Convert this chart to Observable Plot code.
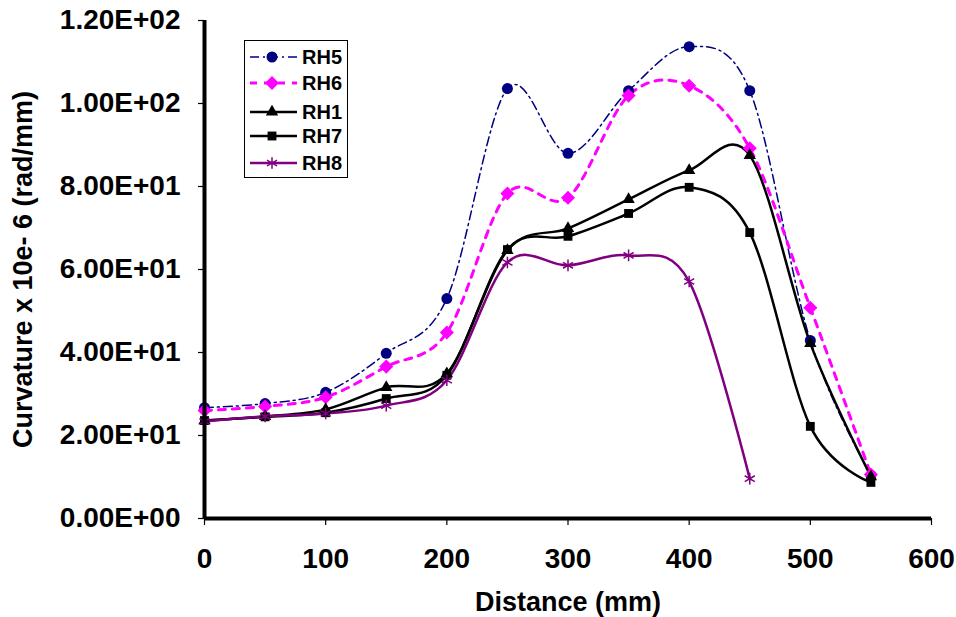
<!DOCTYPE html>
<html>
<head>
<meta charset="utf-8">
<script src="https://cdn.jsdelivr.net/npm/d3@7"></script>
<script src="https://cdn.jsdelivr.net/npm/@observablehq/plot@0.6"></script>
<style>
  html, body { margin: 0; padding: 0; background: #fff; }
  #wrap { position: relative; width: 956px; height: 617px; font-family: "Liberation Sans", Arial, sans-serif; }
  #legend { position: absolute; left: 244px; top: 40px; }
</style>
</head>
<body>
<div id="wrap"></div>
<script>
// ---- data ----
const distance = [0, 50, 100, 150, 200, 250, 300, 350, 400, 450, 500, 550];
const RH5 = [26.7, 27.7, 30.4, 39.8, 53.0, 103.6, 88.0, 103.1, 113.7, 103.1, 42.9, 10.4];
const RH6 = [26.0, 27.0, 29.2, 36.6, 44.8, 78.3, 77.3, 101.9, 104.3, 89.2, 50.8, 10.6];
const RH1 = [23.6, 24.6, 26.3, 31.6, 34.9, 64.6, 69.9, 76.9, 83.9, 87.5, 42.2, 10.1];
const RH7 = [23.6, 24.5, 25.5, 28.9, 34.5, 64.8, 68.0, 73.5, 79.8, 68.9, 22.2, 8.7];
const RH8 = [23.4, 24.6, 25.3, 27.2, 33.3, 61.7, 61.0, 63.4, 57.1, 9.6];
const yTicks = [0, 20, 40, 60, 80, 100, 120];
const xTicks = [0, 100, 200, 300, 400, 500, 600];

const seriesNames = ["RH5", "RH6", "RH1", "RH7", "RH8"];
const seriesValues = {RH5, RH6, RH1, RH7, RH8};

// square-ish rotated diamond, like Excel's marker
const diamondSym = {
  draw(ctx, size) {
    const r = Math.sqrt(size / 2);
    ctx.moveTo(0, -r); ctx.lineTo(r, 0); ctx.lineTo(0, r); ctx.lineTo(-r, 0); ctx.closePath();
  }
};
const symMap = {circle: d3.symbolCircle, diamond: diamondSym, triangle: d3.symbolTriangle, square: d3.symbolSquare, asterisk: d3.symbolAsterisk};

const styles = {
  RH5: {stroke: "#000080", width: 1.5, dash: "9,4,2,4", symbol: "circle", fill: "#000080", r: 5.5},
  RH6: {stroke: "#ff00ff", width: 3, dash: "7,7", symbol: "diamond", fill: "#ff00ff", r: 5.6},
  RH1: {stroke: "#000000", width: 2.5, dash: null, symbol: "triangle", fill: "#000000", r: 4.6},
  RH7: {stroke: "#000000", width: 2.5, dash: null, symbol: "square", fill: "#000000", r: 5},
  RH8: {stroke: "#800080", width: 2.5, dash: null, symbol: "asterisk", fill: "none", r: 5.5}
};

function tableFor(name) {
  return seriesValues[name].map((v, i) => ({x: distance[i], y: v}));
}
function sci(d) {
  const [m, e] = d.toExponential(2).split("e");
  const n = +e;
  return m + "E" + (n < 0 ? "-" : "+") + String(Math.abs(n)).padStart(2, "0");
}

const marks = [];
for (const name of seriesNames) {
  const s = styles[name];
  marks.push(Plot.line(tableFor(name), {x: "x", y: "y", stroke: s.stroke, strokeWidth: s.width,
    strokeDasharray: s.dash, curve: "cardinal", tension: 0}));
}
for (const name of seriesNames) {
  const s = styles[name];
  const data = tableFor(name);
  if (s.symbol === "asterisk") {
    marks.push(Plot.dot(data, {x: "x", y: "y", symbol: symMap.asterisk, r: s.r, stroke: s.stroke, strokeWidth: 1.5}));
  } else {
    marks.push(Plot.dot(data, {x: "x", y: "y", symbol: symMap[s.symbol], r: s.r, fill: s.fill, stroke: "none"}));
  }
}

const chart = Plot.plot({
  width: 956,
  height: 617,
  marginLeft: 204,
  marginRight: 25,
  marginTop: 20,
  marginBottom: 99,
  style: {fontFamily: "'Liberation Sans', Arial, sans-serif", fontWeight: "bold", fontSize: "28px", color: "#000", background: "#fff"},
  x: {domain: [0, 600]},
  y: {domain: [0, 120]},
  marks: [
    Plot.axisX({ticks: xTicks, tickSize: 7, tickPadding: 23, tickFormat: d => String(d),
      fontSize: 28, fontWeight: "bold", strokeWidth: 1.2, label: null}),
    Plot.axisX({ticks: [], label: "Distance (mm)", labelAnchor: "center", labelOffset: 92, labelArrow: "none",
      fontSize: 27, fontWeight: "bold"}),
    Plot.axisY({ticks: yTicks, tickSize: 6, tickPadding: 18, tickFormat: sci,
      fontSize: 28, fontWeight: "bold", strokeWidth: 1.2, label: null}),
    Plot.axisY({ticks: [], label: "Curvature x 10e- 6 (rad/mm)", labelAnchor: "center", labelOffset: 192, labelArrow: "none",
      fontSize: 27, fontWeight: "bold"}),
    ...marks,
    Plot.ruleY([0], {stroke: "#000", strokeWidth: 4}),
    Plot.ruleX([0], {stroke: "#000", strokeWidth: 4})
  ]
});
document.getElementById("wrap").appendChild(chart);

// ---- legend ----
const lw = 103, lh = 137;
const leg = d3.select("#wrap").append("svg").attr("id", "legend")
  .attr("width", lw + 2).attr("height", lh + 2);
leg.append("rect").attr("x", 0.5).attr("y", 0.5).attr("width", lw).attr("height", lh)
  .attr("fill", "#fff").attr("stroke", "#000").attr("stroke-width", 1);
const rowY = [17, 43, 72, 96, 123];
seriesNames.forEach((name, i) => {
  const s = styles[name];
  const y = rowY[i];
  leg.append("line").attr("x1", 6).attr("x2", 53).attr("y1", y).attr("y2", y)
    .attr("stroke", s.stroke).attr("stroke-width", s.width)
    .attr("stroke-dasharray", s.dash);
  const area = Math.PI * s.r * s.r;
  const p = leg.append("path").attr("transform", `translate(28,${y})`)
    .attr("d", d3.symbol(symMap[s.symbol], area)());
  if (s.symbol === "asterisk") p.attr("fill", "none").attr("stroke", s.stroke).attr("stroke-width", 1.5);
  else p.attr("fill", s.fill);
  leg.append("text").attr("x", 58).attr("y", y).attr("dy", "0.36em")
    .attr("font-family", "'Liberation Sans', Arial, sans-serif").attr("font-weight", "bold")
    .attr("font-size", 20).text(name);
});
</script>
</body>
</html>
